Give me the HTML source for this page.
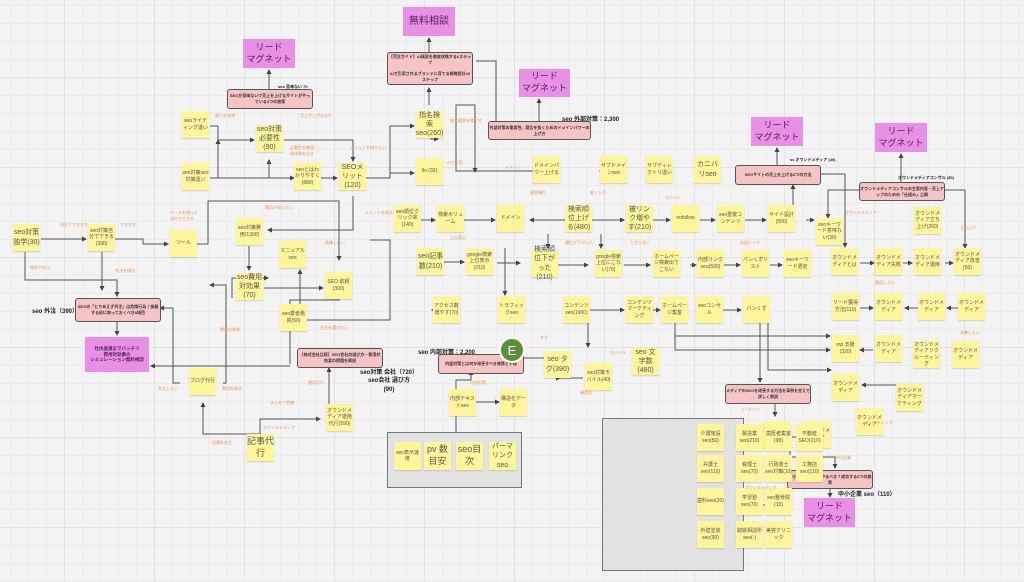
<!DOCTYPE html>
<html><head><meta charset="utf-8"><style>
body{margin:0;width:1024px;height:582px;overflow:hidden;background:#f3f3f3;
background-image:linear-gradient(#e3e3e3 1px,transparent 1px),linear-gradient(90deg,#e3e3e3 1px,transparent 1px),linear-gradient(#ebebeb 1px,transparent 1px),linear-gradient(90deg,#ebebeb 1px,transparent 1px);
background-size:90px 90px,90px 90px,18px 18px,18px 18px;background-position:-26px -13px;
font-family:"Liberation Sans","Noto Sans CJK JP",sans-serif;position:relative}
.s{position:absolute;width:27px;height:27px;background:#fff59a;box-shadow:0 1px 1px rgba(0,0,0,.15);font-size:5px;color:#555;display:flex;align-items:center;justify-content:center;text-align:center;line-height:1.3}
.m{font-size:7px}.l{font-size:9px}
.mg{position:absolute;background:#e88fe6;color:#5a1a5a;font-size:9px;text-align:center;display:flex;align-items:center;justify-content:center;line-height:1.3}
.pk{position:absolute;background:#f6c4c4;border:1.3px solid #555;border-radius:3px;font-size:4px;color:#333;display:flex;align-items:center;justify-content:center;text-align:center;font-weight:bold}
.gb{position:absolute;background:#e2e2e2;border:1.3px solid #777}
.b{position:absolute;font-size:6px;font-weight:bold;color:#222;white-space:nowrap}
.o{position:absolute;font-size:4px;color:#e9934a;white-space:nowrap;line-height:1.4}
svg{position:absolute;left:0;top:0}
</style></head><body>
<svg width="1024" height="582"><defs><marker id="a" markerWidth="5" markerHeight="5" refX="4" refY="2.5" orient="auto"><path d="M0,0L5,2.5L0,5z" fill="#444"/></marker></defs>
<g fill="none" stroke="#555" stroke-width="1" marker-end="url(#a)">
<path d="M429,52V38"/><path d="M269,89V70"/><path d="M539,121V99"/><path d="M777,165V148"/><path d="M901,182V154"/>
<path d="M117,320V335"/><path d="M290,366H151"/><path d="M830,487V497"/>
<path d="M210,126H218V140H254"/><path d="M210,178H294"/><path d="M218,178V140"/><path d="M269,178V160"/>
<path d="M284,140H353V161"/><path d="M321,178H337"/><path d="M366,178H390V126H414"/><path d="M390,173H414"/>
<path d="M41,239H86"/><path d="M115,239H143V244H168"/><path d="M197,244H208V201H339V260"/>
<path d="M353,196V230H268"/><path d="M249,246V270"/><path d="M264,288H323"/>
<path d="M429,105V88"/><path d="M476,61H496V130H505"/><path d="M430,139H438"/>
<path d="M420,220H435"/><path d="M464,220H495"/><path d="M430,185V170"/>
<path d="M444,262H464"/><path d="M497,263H520"/><path d="M505,248V295"/><path d="M460,310H432"/>
<path d="M533,171H456V105H475V172"/><path d="M565,220H530"/><path d="M591,220H624"/><path d="M653,220H670"/><path d="M700,220H715"/>
<path d="M745,220H766"/><path d="M806,220H814"/><path d="M548,234V248"/><path d="M601,234V248"/><path d="M627,171H600"/>
<path d="M793,205V185"/><path d="M821,174H845V247"/><path d="M895,190H965V248"/><path d="M940,190H828V218"/>
<path d="M558,265H588"/><path d="M624,265H650"/><path d="M690,265H696"/><path d="M724,265H740"/><path d="M770,265H782"/><path d="M860,263H874"/><path d="M903,263H912"/><path d="M945,263H953"/>
<path d="M590,310H624"/><path d="M653,310H660"/><path d="M723,310H741"/>
<path d="M768,303V370H831"/><path d="M675,336H830"/><path d="M675,312V350H830"/><path d="M760,320V382"/><path d="M860,308H873"/><path d="M918,308H905"/><path d="M958,308H947"/>
<path d="M873,350H860"/><path d="M912,385H862"/><path d="M775,402V416"/><path d="M790,435V457H835V468"/><path d="M742,505H790V437H802"/>
<path d="M370,240H390V320H300V270"/><path d="M329,404V368"/><path d="M261,434H203V403"/><path d="M260,435V419H320"/><path d="M232,298V278H268"/>
<path d="M180,383H173V308H160"/><path d="M223,383H226V285H210"/><path d="M290,364V300H339V290"/>
<path d="M456,432V380H471V371"/><path d="M464,402H499"/><path d="M545,358H512"/><path d="M583,378H560V378"/><path d="M588,305V347"/>
<path d="M25,252V280H117V296"/><path d="M102,252V290"/>
</g></svg>

<div class="mg" style="left:403px;top:7px;width:52px;height:29px;font-size:10px">無料相談</div>
<div class="mg" style="left:243px;top:39px;width:52px;height:29px">リード<br>マグネット</div>
<div class="mg" style="left:519px;top:69px;width:51px;height:28px">リード<br>マグネット</div>
<div class="mg" style="left:751px;top:117px;width:52px;height:29px">リード<br>マグネット</div>
<div class="mg" style="left:875px;top:123px;width:52px;height:29px">リード<br>マグネット</div>
<div class="mg" style="left:804px;top:498px;width:51px;height:29px">リード<br>マグネット</div>
<div class="mg" style="left:85px;top:337px;width:64px;height:35px;font-size:4.5px;font-weight:bold">社内稟議までバッチリ<br>費用対効果の<br>シミュレーション無料相談</div>

<div class="pk" style="left:387px;top:52px;width:84px;height:31px">【完全ガイド】AI検索を徹底攻略する6ステップ<br><br>AIで引用されるブランドに育てる戦略設計10ステップ</div>
<div class="pk" style="left:227px;top:89px;width:84px;height:18px">SEOが意味ないで売上を上げるサイトがやっている3つの施策</div>
<div class="pk" style="left:488px;top:121px;width:101px;height:17px">外部対策の重要性、競合を抜くためのドメインパワーの上げ方</div>
<div class="pk" style="left:735px;top:165px;width:84px;height:18px">SEOサイトの売上を上げる6つの方法</div>
<div class="pk" style="left:859px;top:182px;width:84px;height:17px">オウンドメディアコンサルの主要内容・売上アップのための「仕組み」公開</div>
<div class="pk" style="left:75px;top:298px;width:84px;height:22px">SEOの「とりあえず外注」は危険行為！依頼する前に知っておくべき8項目</div>
<div class="pk" style="left:297px;top:348px;width:84px;height:18px">【株式会社比較】SEO会社の選び方・費用対効果の問題を解説</div>
<div class="pk" style="left:438px;top:354px;width:84px;height:18px">内部対策とは何か改善すべき施策と手順</div>
<div class="pk" style="left:725px;top:384px;width:84px;height:18px">メディアのSEOを改善する方法を事例を交えて詳しく解説</div>
<div class="pk" style="left:787px;top:470px;width:84px;height:17px">中小企業はSEOをやるべき？成功する5つの施策</div>

<div class="gb" style="left:387px;top:432px;width:133px;height:54px"></div>
<div class="gb" style="left:602px;top:418px;width:140px;height:151px"></div>

<div style="position:absolute;left:499px;top:337px;width:22px;height:22px;border-radius:50%;background:#5c8f3a;border:2px solid #fff;color:#fff;font-size:13px;display:flex;align-items:center;justify-content:center">E</div>

<div class="s" style="left:182px;top:111px">seoライティング違い</div>
<div class="s" style="left:182px;top:163px">seo対策seo対策違い</div>
<div class="s m" style="left:256px;top:125px">seo対策必要性(90)</div>
<div class="s" style="left:294px;top:163px">seoとはわかりやすく(880)</div>
<div class="s m" style="left:339px;top:163px">SEOメリット(120)</div>
<div class="s m" style="left:416px;top:111px">指名検索seo(260)</div>
<div class="s" style="left:416px;top:158px">llo (30)</div>
<div class="s" style="left:394px;top:205px">seo順位クリック率(140)</div>
<div class="s" style="left:437px;top:205px">検索ボリューム</div>
<div class="s" style="left:497px;top:205px">ドメイン</div>
<div class="s m" style="left:13px;top:224px">seo対策独学(30)</div>
<div class="s" style="left:88px;top:224px">seo対策自分でできる(390)</div>
<div class="s" style="left:170px;top:230px">ツール</div>
<div class="s" style="left:236px;top:218px">seo対策費用(1300)</div>
<div class="s" style="left:279px;top:241px">マニュアルseo</div>
<div class="s m" style="left:417px;top:248px">seo記事数(210)</div>
<div class="s" style="left:466px;top:248px">google検索上位表示(210)</div>
<div class="s m" style="left:236px;top:273px">seo費用対効果(70)</div>
<div class="s" style="left:325px;top:272px">SEO 依頼(390)</div>
<div class="s" style="left:533px;top:156px">ドメインパワー上げる</div>
<div class="s" style="left:600px;top:156px">サブドメインseo</div>
<div class="s" style="left:646px;top:156px">サブディレクトリ違い</div>
<div class="s m" style="left:694px;top:156px">カニバリseo</div>
<div class="s m" style="left:565px;top:205px">検索順位上げる(480)</div>
<div class="s m" style="left:626px;top:205px">被リンク増やす(210)</div>
<div class="s" style="left:672px;top:205px">nofollow</div>
<div class="s" style="left:717px;top:205px">seo重複コンテンツ</div>
<div class="s" style="left:768px;top:205px">サイト設計(500)</div>
<div class="s" style="left:816px;top:218px">seoキーワード意味ない(30)</div>
<div class="s" style="left:914px;top:207px">オウンドメディア立ち上げ(260)</div>
<div class="s m" style="left:531px;top:250px">検索順位下がった(210)</div>
<div class="s" style="left:595px;top:250px">google検索上位にこない(70)</div>
<div class="s" style="left:653px;top:250px">ホームページ検索出てこない</div>
<div class="s" style="left:697px;top:250px">内部リンクseo(590)</div>
<div class="s" style="left:742px;top:250px">パンくずリスト</div>
<div class="s" style="left:784px;top:250px">seoキーワード選定</div>
<div class="s" style="left:831px;top:248px">オウンドメディアとは</div>
<div class="s" style="left:875px;top:248px">オウンドメディア失敗</div>
<div class="s" style="left:914px;top:248px">オウンドメディア運用</div>
<div class="s" style="left:954px;top:248px">オウンドメディア改善(50)</div>
<div class="s" style="left:280px;top:304px">seo業者悪質(50)</div>
<div class="s" style="left:189px;top:368px">ブログ代行</div>
<div class="s l" style="left:247px;top:434px">記事代行</div>
<div class="s" style="left:326px;top:404px">オウンドメディア運用代行(590)</div>
<div class="s" style="left:433px;top:296px">アクセス数増やす(70)</div>
<div class="s" style="left:498px;top:296px">トラフィックseo</div>
<div class="s" style="left:449px;top:389px">内部テキストseo</div>
<div class="s" style="left:500px;top:389px">構造化データ</div>
<div class="s" style="left:394px;top:442px;height:28px">seo表示速度</div>
<div class="s l" style="left:424px;top:442px;height:28px">pv 数目安</div>
<div class="s l" style="left:456px;top:442px;height:28px">seo目次</div>
<div class="s m" style="left:489px;top:442px;height:28px">パーマリンクseo</div>
<div class="s" style="left:563px;top:296px">コンテンツseo(1900)</div>
<div class="s" style="left:626px;top:296px">コンテンツマーケティング</div>
<div class="s" style="left:661px;top:296px">ホームページ集客</div>
<div class="s" style="left:696px;top:296px">seoコンサル</div>
<div class="s" style="left:743px;top:296px">パンくず</div>
<div class="s" style="left:832px;top:293px">リード獲得方法(110)</div>
<div class="s" style="left:875px;top:293px">オウンドメディア</div>
<div class="s" style="left:918px;top:293px">オウンドメディア</div>
<div class="s" style="left:958px;top:293px">オウンドメディア</div>
<div class="s" style="left:832px;top:335px">mp 支援(320)</div>
<div class="s" style="left:875px;top:335px">オウンドメディア</div>
<div class="s" style="left:913px;top:341px">オウンドメディアリクルーティング</div>
<div class="s" style="left:952px;top:341px">オウンドメディア</div>
<div class="s" style="left:832px;top:374px">オウンドメディア</div>
<div class="s" style="left:896px;top:384px">オウンドメディアマーケティング</div>
<div class="s" style="left:856px;top:408px">オウンドメディア</div>
<div class="s m" style="left:544px;top:351px">seo タグ(390)</div>
<div class="s" style="left:585px;top:363px">seo対策モバイル(40)</div>
<div class="s m" style="left:632px;top:348px">seo 文字数(480)</div>
<div class="s" style="left:762px;top:421px">seo対策book(20)</div>
<div class="s" style="left:804px;top:421px">オウンドメディア</div>

<div class="s" style="left:697px;top:424px">介護施設seo(50)</div>
<div class="s" style="left:736px;top:424px">製造業seo(210)</div>
<div class="s" style="left:765px;top:424px">歯医者集客(90)</div>
<div class="s" style="left:796px;top:424px">不動産SEO(210)</div>
<div class="s" style="left:697px;top:455px">弁護士seo(110)</div>
<div class="s" style="left:736px;top:455px">税理士seo(70)</div>
<div class="s" style="left:765px;top:455px">行政書士seo対策(10)</div>
<div class="s" style="left:796px;top:455px">工務店seo(110)</div>
<div class="s" style="left:697px;top:488px">歯科seo(20)</div>
<div class="s" style="left:736px;top:488px">学習塾seo(70)</div>
<div class="s" style="left:765px;top:488px">seo整骨院(10)</div>
<div class="s" style="left:697px;top:521px">外壁塗装seo(90)</div>
<div class="s" style="left:736px;top:521px">結婚相談所seo(-)</div>
<div class="s" style="left:765px;top:521px">美容クリニック</div>

<div class="b" style="left:278px;top:84px;font-size:4px">seo 意味ない 70</div>
<div class="b" style="left:562px;top:114px">seo 外部対策：2,300</div>
<div class="b" style="left:418px;top:347px">seo 内部対策：2,200</div>
<div class="b" style="left:32px;top:306px">seo 外注（390）</div>
<div class="b" style="left:360px;top:369px;text-align:center;line-height:1.4">seo対策 会社（720）<br>seo会社 選び方<br>(90)</div>
<div class="b" style="left:838px;top:489px">中小企業 seo（110）</div>
<div class="b" style="left:790px;top:157px;font-size:4px">ss オウンドメディア (40)</div>
<div class="b" style="left:898px;top:175px;font-size:4px">オウンドメディアコンサル (50)</div>

<div class="o" style="left:215px;top:113px">違いを説明</div><div class="o" style="left:300px;top:113px">売上が上がるのか</div>
<div class="o" style="left:290px;top:145px">必要性を確認<br>具体例を出す</div><div class="o" style="left:350px;top:145px">メリットを知りたい</div>
<div class="o" style="left:60px;top:222px">自分でできるか</div><div class="o" style="left:120px;top:222px">できるか</div>
<div class="o" style="left:170px;top:210px">ツールを使って<br>自分でできる</div><div class="o" style="left:265px;top:205px">費用が知りたい</div>
<div class="o" style="left:325px;top:240px">依頼したい</div><div class="o" style="left:365px;top:210px">メリットを知る</div>
<div class="o" style="left:30px;top:265px">独学で学ぶ</div><div class="o" style="left:115px;top:268px">外注を検討</div>
<div class="o" style="left:220px;top:327px">費用対効果</div><div class="o" style="left:320px;top:325px">会社を選びたい</div>
<div class="o" style="left:158px;top:386px">外注したい</div><div class="o" style="left:222px;top:386px">費用を知る</div>
<div class="o" style="left:270px;top:400px">まとめて依頼</div><div class="o" style="left:263px;top:425px">オウンドメディア</div>
<div class="o" style="left:212px;top:440px">記事を外注</div><div class="o" style="left:308px;top:380px">運用代行</div>
<div class="o" style="left:450px;top:118px">指名検索を増やす</div><div class="o" style="left:447px;top:160px">AIで引用</div>
<div class="o" style="left:505px;top:165px">ドメイン</div><div class="o" style="left:450px;top:235px">上位表示</div>
<div class="o" style="left:530px;top:190px">検索順位</div><div class="o" style="left:590px;top:190px">被リンク</div>
<div class="o" style="left:565px;top:240px">順位が下がった</div><div class="o" style="left:630px;top:240px">上がらない</div>
<div class="o" style="left:665px;top:195px">カニバリ</div><div class="o" style="left:740px;top:240px">内部リンク</div>
<div class="o" style="left:845px;top:210px">オウンドメディア</div><div class="o" style="left:960px;top:225px">立ち上げ</div>
<div class="o" style="left:875px;top:280px">運用したい</div><div class="o" style="left:960px;top:330px">改善したい</div>
<div class="o" style="left:740px;top:407px">コンテンツ</div><div class="o" style="left:745px;top:485px">オウンドメディア</div>
<div class="o" style="left:865px;top:420px">マーケティング</div><div class="o" style="left:835px;top:455px">中小企業</div>
<div class="o" style="left:540px;top:335px">タグ</div><div class="o" style="left:610px;top:350px">モバイル</div>
<div class="o" style="left:470px;top:380px">内部対策</div><div class="o" style="left:580px;top:390px">構造化</div>
</body></html>
